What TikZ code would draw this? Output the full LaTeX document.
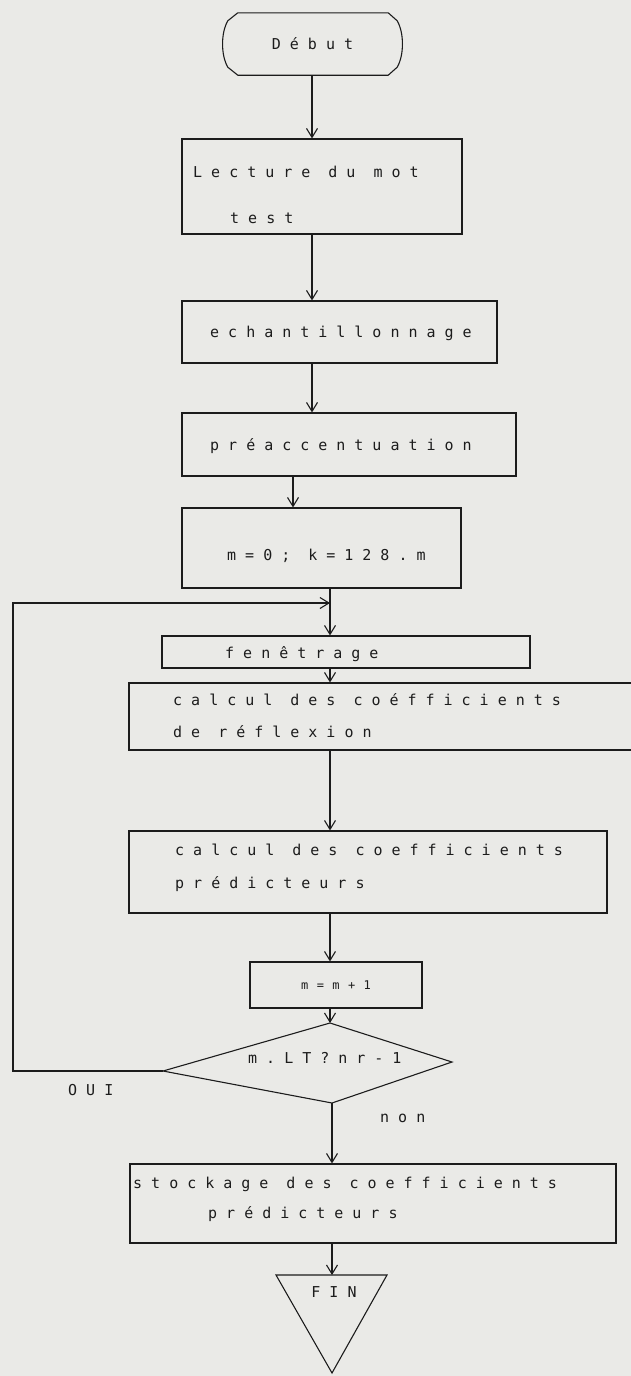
\documentclass[tikz,border=0pt]{standalone}
\usepackage{fontspec}
\usetikzlibrary{arrows.meta,calc,fit}
\newfontfamily\dotfont[LetterSpace=60]{DejaVu Sans Mono}
\newfontfamily\dotfontsmall[LetterSpace=70]{DejaVu Sans Mono}
\definecolor{paper}{RGB}{234,234,231}
\definecolor{ink}{RGB}{28,28,28}
\begin{document}
\begin{tikzpicture}[x=1pt,y=-1pt,
  line/.style={draw=ink, line width=1.1pt},
  box/.style={line, inner sep=0pt},
  arr/.style={line, -{Straight Barb[length=9pt,width=11pt,line width=1.1pt]}},
  txt/.style={text=ink, font=\dotfont\fontsize{15}{18}\selectfont, inner sep=0pt, anchor=base west},
  smalltxt/.style={text=ink, font=\dotfontsmall\fontsize{12}{14}\selectfont}]

% paper and page frame
\fill[paper] (0,0) rectangle (631,1376);
\clip (0,0) rectangle (631,1376);

% start terminal
\node[text=ink, font=\dotfont\fontsize{15}{18}\selectfont, minimum width=181pt, minimum height=62pt, inner sep=0pt] (debut) at (312.5,44) {Début};
\draw[line] ($(debut.north west)+(16,0)$) -- ($(debut.north east)+(-15,0)$)
  -- ($(debut.north east)+(-6,8)$)
  .. controls ($(debut.north east)+(1,20)$) and ($(debut.south east)+(1,-20)$) .. ($(debut.south east)+(-6,-8)$)
  -- ($(debut.south east)+(-15,0)$)
  -- ($(debut.south west)+(16,0)$)
  -- ($(debut.south west)+(6,-8)$)
  .. controls ($(debut.south west)+(-1,-20)$) and ($(debut.north west)+(-1,20)$) .. ($(debut.north west)+(6,8)$)
  -- cycle;

% process boxes
\node[box, fit={(182,139) (462,234)}] (b1) {};
\node[box, fit={(182,301) (497,363)}] (b2) {};
\node[box, fit={(182,413) (516,476)}] (b3) {};
\node[box, fit={(182,508) (461,588)}] (b4) {};
\node[box, fit={(162,636) (530,668)}] (b5) {};
\node[box, fit={(129,683) (645,750)}] (b6) {};
\node[box, fit={(129,831) (607,913)}] (b7) {};
\node[box, smalltxt, minimum width=172pt, minimum height=46pt] (b8) at (336,985) {m=m+1};
\node[box, fit={(130,1164) (616,1243)}] (b9) {};

% box texts
\node[txt] (t1a) at (193,177) {Lecture du mot};
\node[txt] (t1b) at (230,223) {test};
\node[txt] (t2) at (210,337) {echantillonnage};
\node[txt] (t3) at (210,450) {préaccentuation};
\node[txt] (t4) at (227,560) {m=0; k=128.m};
\node[txt] (t5) at (225,658) {fenêtrage};
\node[txt] (t6a) at (173,705) {calcul des coéfficients};
\node[txt] (t6b) at (173,737) {de réflexion};
\node[txt] (t7a) at (175,855) {calcul des coefficients};
\node[txt] (t7b) at (175,888) {prédicteurs};
\node[txt] (t9a) at (133,1188) {stockage des coefficients};
\node[txt] (t9b) at (208,1218) {prédicteurs};

% decision
\coordinate (dT) at (330,1023);
\coordinate (dR) at (452,1062);
\coordinate (dB) at (332,1103);
\coordinate (dL) at (163,1071);
\draw[line] (dT) -- (dR) -- (dB) -- (dL) -- cycle;
\node[txt] (cond) at (248,1063) {m.LT?nr-1};
\node[txt] (oui) at (68,1095) {OUI};
\node[txt] (non) at (380,1122) {non};

% end terminal
\coordinate (fTL) at (276,1275);
\coordinate (fTR) at (387,1275);
\coordinate (fB) at (332,1373);
\coordinate (fT) at (332,1275);
\draw[line] (fTL) -- (fTR) -- (fB) -- cycle;
\node[txt, anchor=base] (fin) at (334,1297) {FIN};

% flow columns
\coordinate (cA) at (312,0);
\coordinate (cB) at (293,0);
\coordinate (cC) at (330,0);
\coordinate (join) at (330,603);
\coordinate (lp1) at (13,1071);
\coordinate (lp2) at (13,603);

% connectors
\draw[arr] (debut.south -| cA) -- (b1.north -| cA);
\draw[arr] (b1.south -| cA) -- (b2.north -| cA);
\draw[arr] (b2.south -| cA) -- (b3.north -| cA);
\draw[arr] (b3.south -| cB) -- (b4.north -| cB);
\draw[arr] (b4.south -| cC) -- (b5.north -| cC);
\draw[arr] (b5.south -| cC) -- (b6.north -| cC);
\draw[arr] (b6.south -| cC) -- (b7.north -| cC);
\draw[arr] (b7.south -| cC) -- (b8.north -| cC);
\draw[arr] (b8.south -| cC) -- (dT);
\draw[arr] (dB) -- (b9.north -| dB);
\draw[arr] (b9.south -| dB) -- (fT);
\draw[arr] (dL) -- (lp1) -- (lp2) -- (join);
\end{tikzpicture}
\end{document}
